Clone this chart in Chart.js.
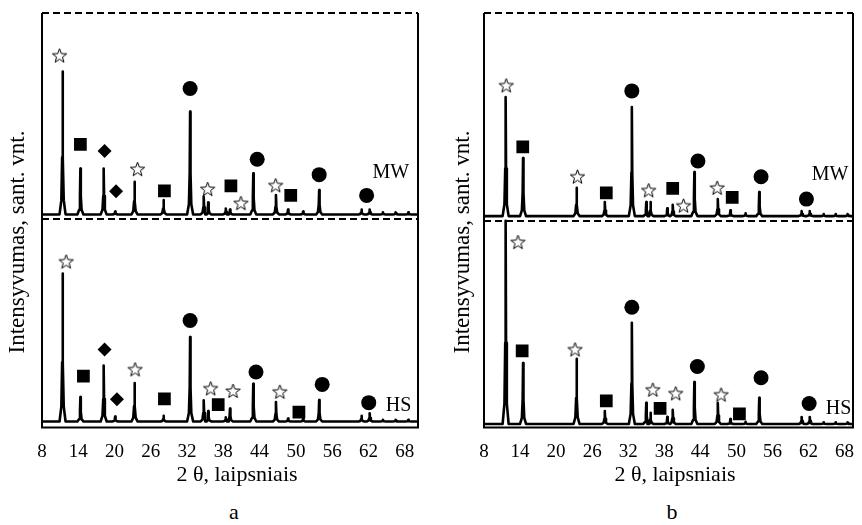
<!DOCTYPE html>
<html>
<head>
<meta charset="utf-8">
<script src="https://cdn.jsdelivr.net/npm/chart.js@4.4.0/dist/chart.umd.min.js"></script>
<style>
  body { margin: 0; background: #fff; }
  #wrap { position: relative; width: 862px; height: 525px; font-family: "Liberation Serif", "Times New Roman", serif; color: #000; }
  canvas { position: absolute; top: 0; }
  .ytitle { position: absolute; top: 230px; width: 260px; height: 24px; line-height: 24px; font-size: 23px; text-align: center; transform: rotate(-90deg); white-space: nowrap; }
  .xtitle { position: absolute; top: 463px; width: 200px; line-height: 22px; font-size: 22px; text-align: center; white-space: nowrap; }
  .panel { position: absolute; top: 501px; width: 40px; line-height: 22px; font-size: 22px; text-align: center; }
</style>
</head>
<body>
<div id="wrap">
  <canvas id="chartA" width="431" height="480" style="left:0"></canvas>
  <canvas id="chartB" width="431" height="480" style="left:431px"></canvas>
  <div class="ytitle" style="left:-113px">Intensyvumas, sant. vnt.</div>
  <div class="ytitle" style="left:332px">Intensyvumas, sant. vnt.</div>
  <div class="xtitle" style="left:137px">2 θ, laipsniais</div>
  <div class="xtitle" style="left:575px">2 θ, laipsniais</div>
  <div class="panel" style="left:214px">a</div>
  <div class="panel" style="left:652px">b</div>
</div>
<script>
// --- DATA ---
const tickVals = [8, 14, 20, 26, 32, 38, 44, 50, 56, 62, 68];

// panel a: peak positions (2θ) and heights above baseline
const aPeaks = [11.4, 14.35, 18.2, 20.1, 23.3, 28.1, 32.5, 34.75, 35.5, 38.4, 39.1, 42.95, 46.7, 48.7, 51.2, 53.85, 60.85, 62.2, 64.4, 66.5, 68.6];
const aMW = [34.5, 11.1, 11.1, 0.7, 7.9, 3.5, 24.8, 4.3, 2.9, 1.4, 1.2, 9.9, 4.7, 1.2, 0.7, 5.9, 1.2, 1.2, 0.5, 0.5, 0.5];
const aHS = [35.7, 5.9, 13.5, 1.2, 9.3, 1.4, 20.4, 5.1, 2.5, 1.0, 3.1, 9.1, 4.7, 0.7, 0.7, 5.2, 1.4, 2.0, 0.4, 0.4, 0.4];
const aBase = { MW: 51.4, HS: 1.45 };

// panel b
const bPeaks = [11.6, 14.5, 23.4, 28.1, 32.6, 35.0, 35.7, 38.5, 39.4, 43.0, 46.9, 49.0, 51.5, 53.8, 60.85, 62.2, 64.5, 66.5, 68.5];
const bMW = [28.7, 14.0, 6.8, 3.4, 26.3, 3.4, 3.4, 1.9, 2.7, 10.6, 4.1, 1.4, 0.7, 5.8, 1.2, 1.2, 0.5, 0.5, 0.5];
const bHS = [49.0, 14.7, 15.7, 3.1, 24.4, 5.1, 2.7, 1.7, 3.4, 10.1, 5.1, 1.2, 0.5, 6.3, 1.7, 1.7, 0.4, 0.4, 0.4];
const bBase = { MW: 51.0, HS: 0.85 };

// phase markers [2θ, y]
const aStars = [[10.9, 89.6], [23.8, 62.2], [35.4, 57.4], [40.9, 54.0], [46.65, 58.3],
  [12.0, 39.9], [23.4, 13.9], [35.9, 9.3], [39.6, 8.7], [47.35, 8.5]];
const aSquares = [[14.35, 68.3], [28.25, 57.1], [39.25, 58.3], [49.15, 56.0],
  [14.85, 12.4], [28.25, 6.9], [37.15, 5.5], [50.5, 3.7]];
const aDiamonds = [[18.35, 66.7], [20.25, 57.0], [18.35, 18.8], [20.4, 6.8]];
const aCircles = [[32.5, 81.8], [43.6, 64.7], [53.85, 61.0], [61.7, 56.0],
  [32.5, 25.8], [43.4, 13.4], [54.35, 10.4], [62.05, 6.0]];

const bStars = [[11.7, 82.4], [23.55, 60.4], [35.4, 57.1], [41.2, 53.4], [46.8, 57.7],
  [13.65, 44.6], [23.15, 18.7], [36.1, 9.0], [39.9, 8.1], [47.45, 7.8]];
const bSquares = [[14.45, 67.7], [28.35, 56.6], [39.4, 57.7], [49.3, 55.5],
  [14.35, 18.5], [28.35, 6.4], [37.3, 4.6], [50.5, 3.3]];
const bCircles = [[32.6, 81.2], [43.6, 64.3], [54.1, 60.5], [61.65, 55.1],
  [32.6, 29.0], [43.5, 14.7], [54.1, 12.0], [62.1, 5.8]];

// --- STAR SYMBOL ---
const starImg = document.createElement("canvas");
starImg.width = 17;
starImg.height = 17;
(() => {
  const c = starImg.getContext("2d");
  c.beginPath();
  for (let i = 0; i < 10; i++) {
    const r = i % 2 === 0 ? 7.5 : 3.1;
    const a = -Math.PI / 2 + (i * Math.PI) / 5;
    c.lineTo(8.5 + r * Math.cos(a), 8.5 + r * Math.sin(a));
  }
  c.closePath();
  c.fillStyle = "#fff";
  c.fill();
  c.strokeStyle = "#000";
  c.lineWidth = 1;
  c.stroke();
})();

// --- HELPERS ---
// peak outline: offset from peak centre (deg) -> share of the peak height
const profile = [[-0.5, 0], [-0.2, 0.1], [-0.07, 0.4], [0, 1], [0.07, 0.4], [0.2, 0.1], [0.5, 0]];

function buildTrace(pos, hts, base, xmin, xmax) {
  const pts = [{ x: xmin, y: base }, { x: xmax, y: base }];
  pos.forEach((p, i) => {
    profile.forEach(([dx, k]) => pts.push({ x: p + dx, y: base + hts[i] * k }));
  });
  return pts.sort((a, b) => a.x - b.x);
}

const toXY = (arr) => arr.map(([x, y]) => ({ x, y }));

const framePlugin = {
  id: "frame",
  afterDatasetsDraw(chart, args, opts) {
    const { ctx, chartArea: a, scales } = chart;
    const y = scales.y;
    const x = scales.x;
    ctx.save();
    ctx.strokeStyle = "#000";
    ctx.lineWidth = 2;
    ctx.beginPath();
    ctx.moveTo(a.left, a.top);
    ctx.lineTo(a.left, a.bottom);
    ctx.lineTo(a.right, a.bottom);
    ctx.lineTo(a.right, a.top);
    ctx.stroke();
    ctx.setLineDash([7, 4]);
    [y.max, opts.split].forEach((v) => {
      const py = y.getPixelForValue(v);
      ctx.beginPath();
      ctx.moveTo(a.left, py);
      ctx.lineTo(a.right, py);
      ctx.stroke();
    });
    ctx.setLineDash([]);
    ctx.fillStyle = "#000";
    ctx.font = "20px 'Liberation Serif'";
    ctx.textAlign = "center";
    ctx.textBaseline = "middle";
    opts.labels.forEach((l) => {
      ctx.fillText(l.text, x.getPixelForValue(l.x), y.getPixelForValue(l.y));
    });
    ctx.restore();
  },
};

function makeChart(id, cfg) {
  const line = (data) => ({
    data,
    showLine: true,
    borderColor: "#000",
    borderWidth: 2.6,
    borderJoinStyle: "round",
    pointRadius: 0,
    tension: 0,
  });
  const marks = (data, style, r) => ({
    data: toXY(data),
    pointStyle: style,
    pointRadius: r,
    backgroundColor: "#000",
    borderWidth: 0,
  });

  const datasets = [
    marks(cfg.stars, starImg, 8),
    marks(cfg.squares, "rect", 9),
    marks(cfg.circles, "circle", 7.5),
  ];
  if (cfg.diamonds) datasets.push(marks(cfg.diamonds, "rectRot", 7));
  datasets.push(line(buildTrace(cfg.peaks, cfg.mw, cfg.base.MW, 8, cfg.xmax)));
  datasets.push(line(buildTrace(cfg.peaks, cfg.hs, cfg.base.HS, 8, cfg.xmax)));

  return new Chart(document.getElementById(id), {
    type: "scatter",
    data: { datasets },
    options: {
      responsive: false,
      animation: false,
      events: [],
      layout: { padding: cfg.padding },
      plugins: {
        legend: { display: false },
        tooltip: { enabled: false },
        frame: { split: cfg.split, labels: cfg.labels },
      },
      scales: {
        x: {
          type: "linear",
          min: 8,
          max: cfg.xmax,
          grid: { display: false, drawTicks: false },
          border: { display: false },
          ticks: {
            color: "#000",
            font: { family: "Liberation Serif", size: 19 },
            padding: 13,
            maxRotation: 0,
            autoSkip: false,
          },
          afterBuildTicks: (scale) => {
            scale.ticks = tickVals.map((v) => ({ value: v }));
          },
          afterFit: (scale) => {
            scale.paddingLeft = 0;
            scale.paddingRight = 0;
            scale.height = 49;
          },
        },
        y: { display: false, min: 0, max: 100 },
      },
    },
    plugins: [framePlugin],
  });
}

// --- CHARTS ---
makeChart("chartA", {
  peaks: aPeaks, mw: aMW, hs: aHS, base: aBase, xmax: 70.2, split: 50.3,
  stars: aStars, squares: aSquares, circles: aCircles, diamonds: aDiamonds,
  padding: { left: 42, right: 13, top: 13, bottom: 3.5 },
  labels: [{ text: "MW", x: 65.7, y: 61.5 }, { text: "HS", x: 67.0, y: 5.3 }],
});

makeChart("chartB", {
  peaks: bPeaks, mw: bMW, hs: bHS, base: bBase, xmax: 69.4, split: 49.8,
  stars: bStars, squares: bSquares, circles: bCircles,
  padding: { left: 53, right: 5, top: 13, bottom: 3.5 },
  labels: [{ text: "MW", x: 65.6, y: 61.0 }, { text: "HS", x: 67.0, y: 4.6 }],
});
</script>
</body>
</html>
